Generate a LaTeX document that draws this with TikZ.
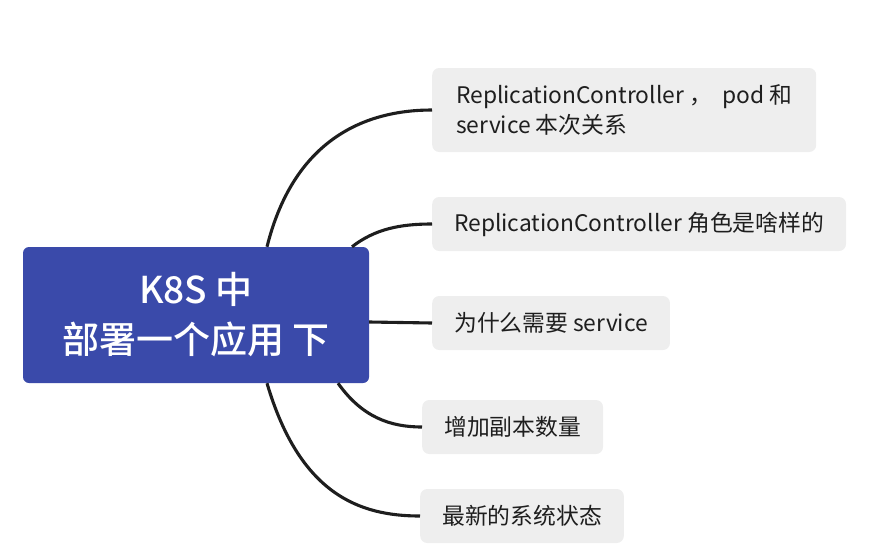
\documentclass[tikz,border=0pt]{standalone}
\usepackage{fontspec}
\setmainfont{Noto Sans CJK SC}
\newfontfamily\rootfont{Noto Sans CJK SC Medium}
\definecolor{mmBlue}{HTML}{3A4AAA}
\definecolor{mmLeaf}{HTML}{EEEEEE}
\definecolor{mmInk}{HTML}{1E1E1E}
\usetikzlibrary{calc}

\begin{document}
\begin{tikzpicture}[
  x=1pt,y=-1pt,
  root/.style={fill=mmBlue,rounded corners=6pt,text=white,font=\rootfont\fontsize{37}{50}\selectfont,
    align=center,minimum width=346pt,minimum height=136pt,inner sep=0pt},
  leaf/.style={fill=mmLeaf,rounded corners=7pt,text=mmInk,font=\fontsize{22.8}{30}\selectfont,
    align=left,minimum height=54pt,inner xsep=22pt,inner ysep=0pt,anchor=west},
  branch/.style={draw=mmInk,line width=3.1pt}
]
\useasboundingbox (0,0) rectangle (873,552);
\node[root] (k8s) at (196,315) {K8S 中\\部署一个应用 下};
% topics on the right
\node[leaf,minimum height=84pt,inner xsep=24pt] (t1) at (432,110) {ReplicationController ，\ \ pod 和\\service 本次关系};
\node[leaf] (t2) at (432,224) {ReplicationController 角色是啥样的};
\node[leaf] (t3) at (432,323) {为什么需要 service};
\node[leaf] (t4) at (422,427) {增加副本数量};
\node[leaf] (t5) at (420,516) {最新的系统状态};
% branches
\draw[branch] ([xshift=71pt]k8s.north) .. controls (295,135) and (370,110) .. (t1.west);
\draw[branch] ([xshift=156pt]k8s.north) .. controls (375,229) and (400,224) .. (t2.west);
\draw[branch] ([yshift=-7pt]k8s.east) -- (t3.west);
\draw[branch] ([xshift=142pt]k8s.south) .. controls (362,417) and (390,427) .. (t4.west);
\draw[branch] ([xshift=71pt]k8s.south) .. controls (300,495) and (360,516) .. (t5.west);
\end{tikzpicture}
\end{document}
